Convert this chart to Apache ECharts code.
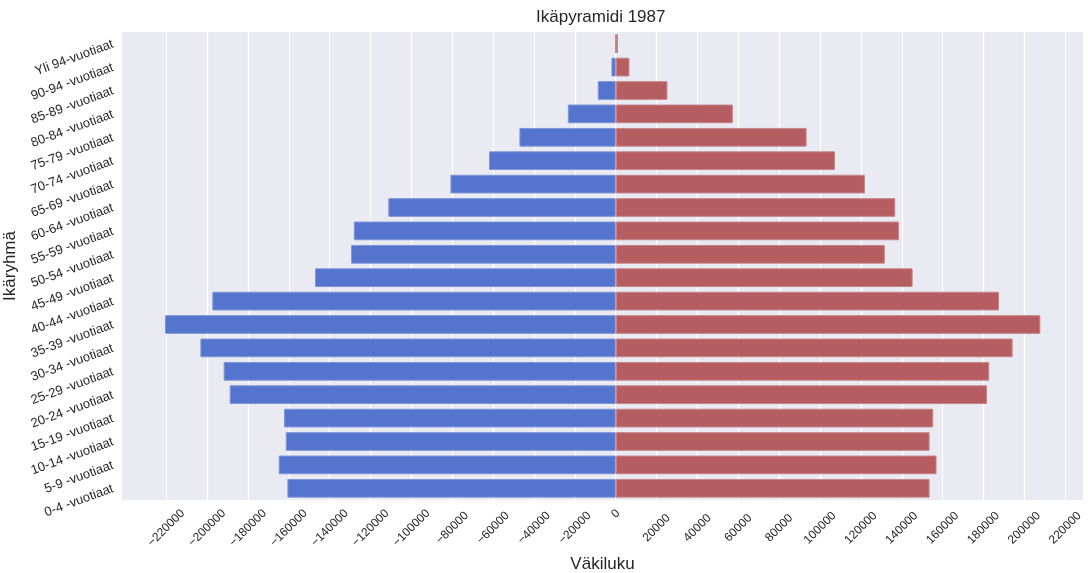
<!DOCTYPE html>
<html>
<head>
<meta charset="utf-8">
<script src="https://cdn.jsdelivr.net/npm/echarts@6/dist/echarts.min.js"></script>
<style>
html,body{margin:0;padding:0;background:#fff;}
#chart{width:1088px;height:573px;}
</style>
</head>
<body>
<div id="chart"></div>
<script>
const categories = ['0-4 -vuotiaat','5-9 -vuotiaat','10-14 -vuotiaat','15-19 -vuotiaat','20-24 -vuotiaat','25-29 -vuotiaat','30-34 -vuotiaat','35-39 -vuotiaat','40-44 -vuotiaat','45-49 -vuotiaat','50-54 -vuotiaat','55-59 -vuotiaat','60-64 -vuotiaat','65-69 -vuotiaat','70-74 -vuotiaat','75-79 -vuotiaat','80-84 -vuotiaat','85-89 -vuotiaat','90-94 -vuotiaat','Yli 94-vuotiaat'];
const males = [-160700,-164950,-161500,-162350,-188950,-191900,-203300,-220600,-197450,-147200,-129550,-128200,-111300,-80900,-62000,-47150,-23450,-8800,-2100,0];
const females = [153600,157000,153600,155400,181700,182800,194250,207800,187550,145300,131700,138600,136800,121950,107300,93400,57300,25300,6700,1100];
const xTicks = [-220000,-200000,-180000,-160000,-140000,-120000,-100000,-80000,-60000,-40000,-20000,0,20000,40000,60000,80000,100000,120000,140000,160000,180000,200000,220000];
const xMin = -241660, xMax = 228690;
const titleText = 'Ikäpyramidi 1987';
const xName = 'Väkiluku';
const yName = 'Ikäryhmä';

const FONT = "'Liberation Sans', Arial, sans-serif";
const TXT = '#262626';
const chart = echarts.init(document.getElementById('chart'), null, {renderer:'canvas'});
chart.setOption({
  animation: false,
  backgroundColor: '#ffffff',
  textStyle: {fontFamily: FONT},
  title: {
    text: titleText, left: 536, top: 9, padding: 0,
    textStyle: {fontFamily: FONT, fontSize: 17, fontWeight: 'normal', color: TXT}
  },
  grid: {
    left: 122, right: 5, top: 32, bottom: 73,
    outerBoundsMode: 'none',
    show: true, backgroundColor: '#eaeaf2', borderWidth: 0, containLabel: false
  },
  xAxis: {
    type: 'value', min: xMin, max: xMax,
    name: xName, nameLocation: 'middle', nameGap: 53,
    nameTextStyle: {fontFamily: FONT, fontSize: 17, color: TXT},
    axisLine: {show: false},
    axisTick: {show: false, customValues: xTicks},
    splitLine: {show: true, lineStyle: {color: '#ffffff', width: 1.2}},
    axisLabel: {
      customValues: xTicks,
      rotate: 45, align: 'center', verticalAlign: 'middle', margin: 28,
      fontFamily: FONT, fontSize: 12, color: TXT,
      formatter: function (v) {
        if (v === 0) return '{z|0}';
        return String(v).replace('-', '\u2212');
      },
      rich: {z: {fontFamily: FONT, fontSize: 12, color: TXT, padding: [0, 0, 20, 20]}}
    }
  },
  yAxis: {
    type: 'category', data: categories,
    name: yName, nameLocation: 'middle', nameGap: 93, nameRotate: 90,
    nameTextStyle: {fontFamily: FONT, fontSize: 17, color: TXT},
    axisLine: {show: false}, axisTick: {show: false},
    splitLine: {show: false},
    axisLabel: {rotate: 20, margin: 9, fontFamily: FONT, fontSize: 13, color: TXT}
  },
  series: [
    {
      type: 'bar', name: 'Miehet', data: males,
      barCategoryGap: '20%', barGap: '-100%',
      itemStyle: {color: '#5574cd', borderColor: '#7f95d8', borderWidth: 1}
    },
    {
      type: 'bar', name: 'Naiset', data: females,
      barCategoryGap: '20%', barGap: '-100%',
      itemStyle: {color: '#b55d60', borderColor: '#c6868a', borderWidth: 1}
    }
  ]
});
</script>
</body>
</html>
